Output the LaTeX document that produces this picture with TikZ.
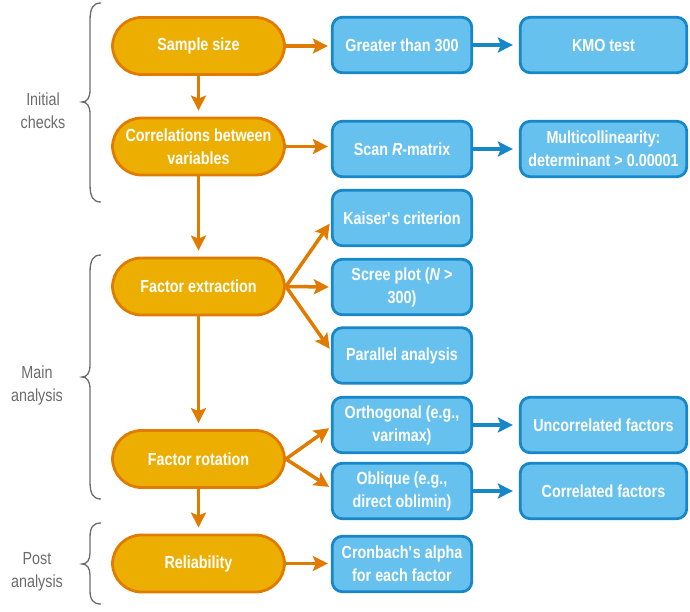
\documentclass[tikz,border=0pt]{standalone}
\usepackage{fontspec}
\usetikzlibrary{arrows.meta}
\newfontfamily\boxfont{Liberation Sans}[FakeStretch=0.82]
\definecolor{ofill}{HTML}{ECAE00}
\definecolor{oline}{HTML}{E07B00}
\definecolor{bfill}{HTML}{66C1EF}
\definecolor{bline}{HTML}{1787C7}
\definecolor{lgray}{HTML}{6B6B6B}
\tikzset{
  pill/.style={draw=oline, fill=ofill, line width=2.8pt, rounded corners=29pt,
    minimum width=172pt, minimum height=57pt, text=white, align=center,
    font=\boxfont\bfseries\fontsize{17.5}{23}\selectfont, inner sep=0pt},
  bbox/.style={draw=bline, fill=bfill, line width=2.8pt, rounded corners=10pt,
    minimum height=55.5pt, text=white, align=center,
    font=\boxfont\bfseries\fontsize{17.5}{23}\selectfont, inner sep=0pt},
  colb/.style={bbox, minimum width=139.5pt},
  colc/.style={bbox, minimum width=166.5pt},
  oarrow/.style={draw=oline, line width=3.5pt, -{Stealth[length=15pt,width=15pt,inset=3pt]}},
  barrow/.style={draw=bline, line width=3.5pt, -{Stealth[length=15pt,width=15pt,inset=3pt]}},
  bracepath/.style={draw=lgray, line width=1.3pt},
  sidelabel/.style={text=lgray, align=center, font=\boxfont\fontsize{17.5}{23}\selectfont, inner sep=0pt}
}
\begin{document}
\begin{tikzpicture}[x=1pt,y=-1pt]
\useasboundingbox (0,0) rectangle (690,612);
% orange pills
\node[pill] (ss) at (198.5,46) {Sample size};
\node[pill] (corr) at (198.5,146.5) {Correlations between\\variables};
\node[pill] (fe) at (198.5,286.5) {Factor extraction};
\node[pill] (fr) at (198.5,459) {Factor rotation};
\node[pill] (rel) at (198.5,563.5) {Reliability};
% column 2
\node[colb] (gt) at (402,45) {Greater than 300};
\node[colb] (scan) at (402,149) {Scan \textit{R}-matrix};
\node[colb] (kai) at (402,218) {Kaiser\textquotesingle s criterion};
\node[colb] (scree) at (402,287) {Scree plot (\textit{N} >\\300)};
\node[colb] (par) at (402,355.5) {Parallel analysis};
\node[colb] (orth) at (402,425) {Orthogonal (e.g.,\\varimax)};
\node[colb] (obl) at (402,491) {Oblique (e.g.,\\direct oblimin)};
\node[colb] (cron) at (402,564) {Cronbach\textquotesingle s alpha\\for each factor};
% column 3
\node[colc] (kmo) at (603.5,45) {KMO test};
\node[colc] (multi) at (603.5,149) {Multicollinearity:\\determinant > 0.00001};
\node[colc] (unc) at (603.5,425) {Uncorrelated factors};
\node[colc] (cor) at (603.5,491) {Correlated factors};
% vertical arrows
\draw[oarrow, shorten >=6pt] (ss) -- (corr);
\draw[oarrow, shorten >=6pt] (corr) -- (fe);
\draw[oarrow, shorten >=6pt] (fe) -- (fr);
\draw[oarrow, shorten >=6pt] (fr) -- (rel);
% horizontal orange arrows
\draw[oarrow, shorten >=3pt] (ss.east) -- (gt.west |- ss.east);
\draw[oarrow, shorten >=3pt] (corr.east) -- (scan.west |- corr.east);
\draw[oarrow, shorten >=3pt] (rel.east) -- (cron.west |- rel.east);
% fans
\draw[oarrow, shorten >=2pt] (fe.east) -- ([yshift=-4pt]kai.west);
\draw[oarrow, shorten >=2pt] (fe.east) -- (scree.west);
\draw[oarrow, shorten >=2pt] (fe.east) -- ([yshift=5pt]par.west);
\draw[oarrow, shorten >=2pt] (fr.east) -- ([yshift=-2pt]orth.west);
\draw[oarrow, shorten >=2pt] (fr.east) -- ([yshift=3pt]obl.west);
% blue arrows
\draw[barrow, shorten >=6pt] (gt) -- (kmo);
\draw[barrow, shorten >=6pt] (scan) -- (multi);
\draw[barrow, shorten >=6pt] (orth) -- (unc);
\draw[barrow, shorten >=6pt] (obl) -- (cor);
% braces
\draw[bracepath] (101,3) .. controls (93,3) and (90,8) .. (90,21) -- (90,90)
  .. controls (90,98) and (87,102) .. (82,102) .. controls (87,102) and (90,106) .. (90,114)
  -- (90,184) .. controls (90,197) and (93,202) .. (101,202);
\draw[bracepath] (101,255) .. controls (93,255) and (90,260) .. (90,273) -- (90,365)
  .. controls (90,373) and (87,377) .. (82,377) .. controls (87,377) and (90,381) .. (90,389)
  -- (90,481) .. controls (90,494) and (93,499) .. (101,499);
\draw[bracepath] (101,523) .. controls (93,523) and (90,527) .. (90,538) -- (90,553)
  .. controls (90,560) and (87,564) .. (82,564) .. controls (87,564) and (90,568) .. (90,575)
  -- (90,590) .. controls (90,600) and (93,604) .. (101,604);
% side labels
\node[sidelabel] (l1) at (43,111) {Initial\\checks};
\node[sidelabel] (l2) at (37,385) {Main\\analysis};
\node[sidelabel] (l3) at (37,572) {Post\\analysis};
\end{tikzpicture}
\end{document}
